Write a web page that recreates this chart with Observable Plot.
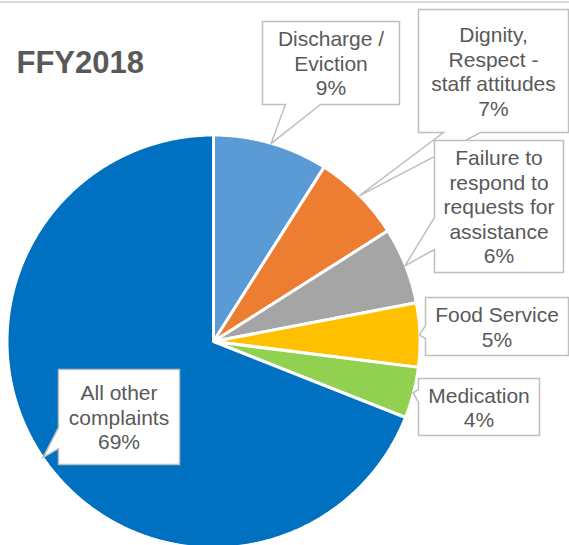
<!DOCTYPE html>
<html>
<head>
<meta charset="utf-8">
<script src="https://cdn.jsdelivr.net/npm/d3@7"></script>
<script src="https://cdn.jsdelivr.net/npm/@observablehq/plot@0.6"></script>
<style>
  body { margin: 0; background: #fff; }
  svg { display: block; }
</style>
</head>
<body>
<div id="chart"></div>
<script>
// ---- data ----
const title = "FFY2018";
const categories = [
  "Discharge / Eviction",
  "Dignity, Respect - staff attitudes",
  "Failure to respond to requests for assistance",
  "Food Service",
  "Medication",
  "All other complaints"
];
const labelLines = [
  "Discharge /\nEviction",
  "Dignity,\nRespect -\nstaff attitudes",
  "Failure to\nrespond to\nrequests for\nassistance",
  "Food Service",
  "Medication",
  "All other\ncomplaints"
];
const shares = [9, 7, 6, 5, 4, 69];
const colors = ["#5B9BD5", "#ED7D31", "#A5A5A5", "#FFC000", "#92D050", "#0070C0"];

// ---- layout (pixel units of the x/y scales) ----
const W = 569, H = 545;
const pieCenter = [213, 341];
const pieRadius = 206.5;
const tipRadius = 206;
const callouts = [
  {box: [262, 21, 399, 104], side: "bottom", base: [285, 320]},
  {box: [418, 9, 568, 132], side: "bottom", base: [443, 480]},
  {box: [434, 140, 563, 272], side: "left", base: [217, 249]},
  {box: [425, 297, 568, 355], side: "left", base: [325, 338]},
  {box: [418, 378, 539, 435], side: "left", base: [389, 402]},
  {box: [58, 369, 179, 464], side: "left", base: [427, 448]}
];

// ---- build geometry from data ----
const arcs = d3.pie().sort(null).startAngle(0).endAngle(2 * Math.PI)(shares);
const [cx, cy] = pieCenter;
const polar = (r, t) => [cx + r * Math.sin(t), cy - r * Math.cos(t)];

const slicePts = [];
arcs.forEach((a, i) => {
  slicePts.push({k: i, x: cx, y: cy, c: colors[i]});
  const n = Math.max(2, Math.ceil((a.endAngle - a.startAngle) / (Math.PI / 360)));
  for (let j = 0; j <= n; j++) {
    const t = a.startAngle + (a.endAngle - a.startAngle) * j / n;
    const [x, y] = polar(pieRadius, t);
    slicePts.push({k: i, x, y, c: colors[i]});
  }
  slicePts.push({k: i, x: cx, y: cy, c: colors[i]});
});

const calloutPts = [];
const labels = [];
callouts.forEach((co, i) => {
  const a = arcs[i];
  const mid = (a.startAngle + a.endAngle) / 2;
  const [tx, ty] = polar(tipRadius, mid);
  const [x0, y0, x1, y1] = co.box;
  let pts;
  if (co.side === "bottom") {
    pts = [[x0, y0], [x1, y0], [x1, y1], [co.base[1], y1], [tx, ty], [co.base[0], y1], [x0, y1], [x0, y0]];
  } else {
    pts = [[x0, y0], [x1, y0], [x1, y1], [x0, y1], [x0, co.base[1]], [tx, ty], [x0, co.base[0]], [x0, y0]];
  }
  pts.forEach(([x, y]) => calloutPts.push({k: i, x, y}));
  labels.push({
    x: (x0 + x1) / 2,
    y: (y0 + y1) / 2,
    text: labelLines[i] + "\n" + shares[i] + "%",
    name: categories[i]
  });
});

const chart = Plot.plot({
  width: W,
  height: H,
  margin: 0,
  x: {domain: [0, W], range: [0, W], axis: null},
  y: {domain: [0, H], range: [0, H], axis: null},
  color: {type: "identity"},
  style: {fontFamily: "'Liberation Sans', Arial, sans-serif", background: "#fff"},
  marks: [
    Plot.ruleY([1.5], {stroke: "#D9D9D9", strokeWidth: 2}),
    Plot.line(slicePts, {x: "x", y: "y", z: "k", fill: "c", stroke: "#fff", strokeWidth: 3, strokeLinejoin: "miter", strokeMiterlimit: 4}),
    Plot.line(calloutPts, {x: "x", y: "y", z: "k", fill: "#fff", stroke: "#BFBFBF", strokeWidth: 1.5, strokeLinejoin: "miter", strokeMiterlimit: 10}),
    Plot.text(labels, {x: "x", y: "y", text: "text", fontSize: 21, lineHeight: 24.5 / 21, lineAnchor: "middle", textAnchor: "middle", fill: "#595959"}),
    Plot.text([title], {x: 16, y: 63, text: d => d, fontSize: 31, fontWeight: "bold", textAnchor: "start", lineAnchor: "middle", fill: "#595959"})
  ]
});
document.getElementById("chart").appendChild(chart);
</script>
</body>
</html>
